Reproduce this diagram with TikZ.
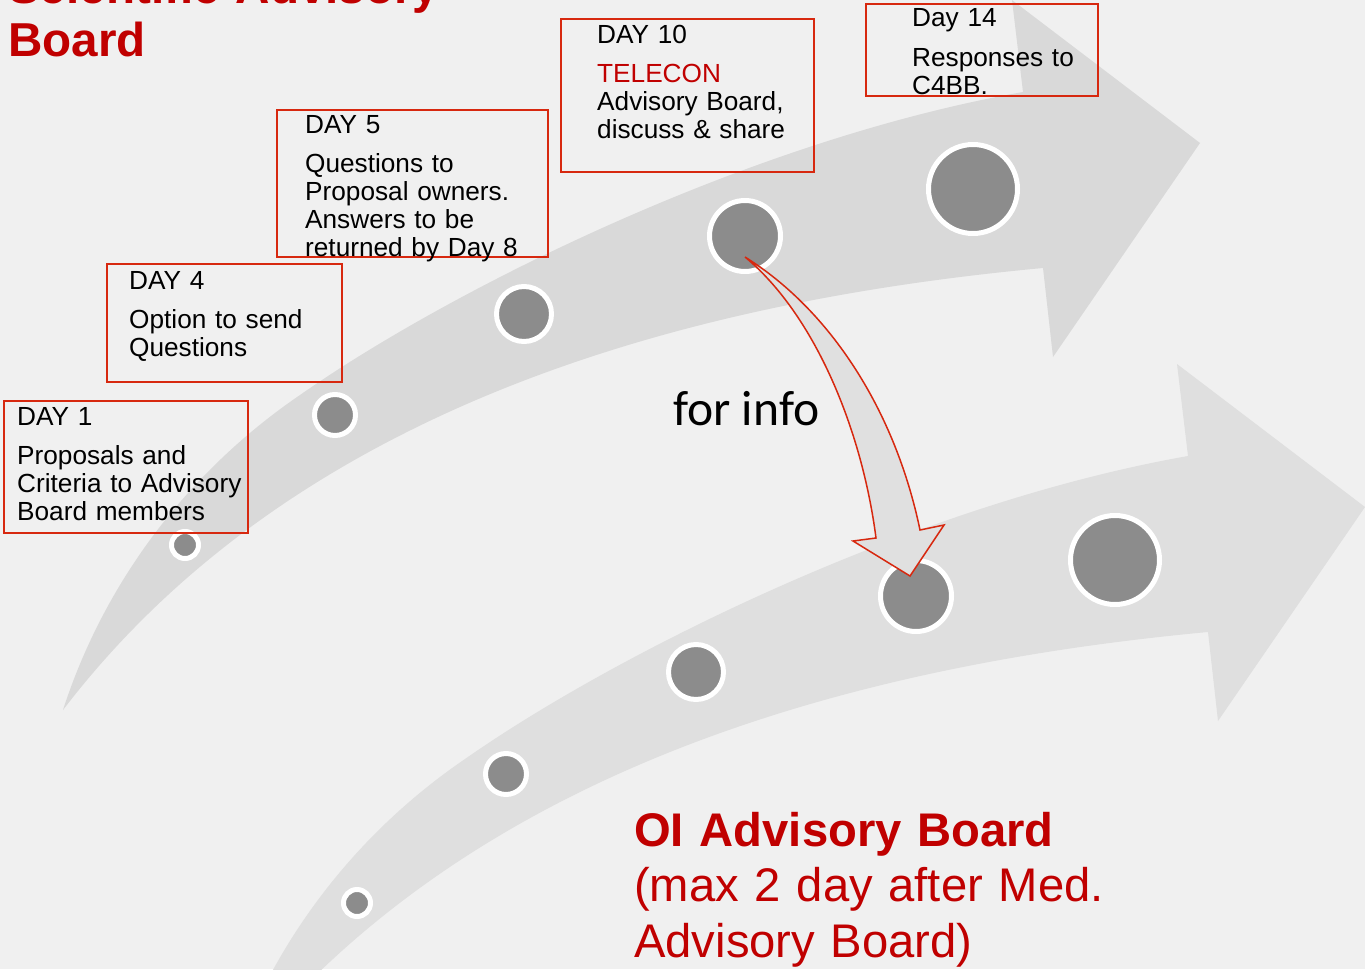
\documentclass[tikz,border=0pt]{standalone}
\usepackage{fontspec}
\setmainfont{Liberation Sans}
\newfontfamily\infofont{Carlito}
\usetikzlibrary{positioning}

\definecolor{bgfill}{HTML}{F0F0F0}
\definecolor{bandup}{HTML}{D9D9D9}
\definecolor{banddown}{HTML}{DFDFDF}
\definecolor{dotgray}{HTML}{8C8C8C}
\definecolor{titlered}{HTML}{C00000}
\definecolor{boxred}{RGB}{215,40,15}
\definecolor{infofill}{HTML}{E0E0E0}

\tikzset{
  daybox/.style={draw=boxred, line width=2pt},
  daytext/.style={anchor=base west, inner sep=0pt, text width=320pt, align=left,
    font=\fontsize{26.2}{28}\selectfont},
  milestone/.style={circle, fill=dotgray, draw=white, line width=5pt, inner sep=0pt},
  headline/.style={anchor=base west, inner sep=0pt, text width=620pt, align=left, text=titlered},
}

\begin{document}
\begin{tikzpicture}[x=1pt, y=-1pt]
  \useasboundingbox (0,0) rectangle (1365,969);
  \clip (0,0) rectangle (1365,969);
  \fill[bgfill] (0,0) rectangle (1365,969);

  \foreach \dx/\dy/\tone in {0/0/bandup, 165/364/banddown}
    \fill[\tone, shift={(\dx,\dy)}] (63,710) .. controls (105,580) and (190,470) .. (300,395)
      .. controls (450,290) and (750,140) .. (1023,92) -- (1012,0) -- (1200,143)
      -- (1053,357) -- (1043,268) .. controls (700,300) and (300,400) .. (63,710) -- cycle;

  \node[milestone, minimum size=27pt] (a1) at (185,545) {};
  \node[milestone, minimum size=41pt] (a2) at (335,415) {};
  \node[milestone, minimum size=55pt] (a3) at (524,314) {};
  \node[milestone, minimum size=71pt] (a4) at (745,236) {};
  \node[milestone, minimum size=89pt] (a5) at (973,189) {};
  \node[milestone, minimum size=27pt] (b1) at (357,903) {};
  \node[milestone, minimum size=41pt] (b2) at (506,774) {};
  \node[milestone, minimum size=55pt] (b3) at (696,672) {};
  \node[milestone, minimum size=71pt] (b4) at (916,596) {};
  \node[milestone, minimum size=89pt] (b5) at (1115,560) {};

  \node[headline, font=\bfseries\fontsize{47.6}{54}\selectfont] (title) at (8,3) {Scientific Advisory\\Board};

  \draw[daybox] (4,401) rectangle (248,533);
  \draw[daybox] (107,264) rectangle (342,382);
  \draw[daybox] (277,110) rectangle (548,257);
  \draw[daybox] (561,19) rectangle (814,172);
  \draw[daybox] (866,4) rectangle (1098,96);

  \node[daytext] (day1) at (17,425) {DAY 1\\[11.5pt]Proposals and\\Criteria to Advisory\\Board members};
  \node[daytext] (day4) at (129,289) {DAY 4\\[11.5pt]Option to send\\Questions};
  \node[daytext] (day5) at (305,133) {DAY 5\\[11.5pt]Questions to\\Proposal owners.\\Answers to be\\returned by Day 8};
  \node[daytext] (day10) at (597,43) {DAY 10\\[11.5pt]\textcolor{titlered}{TELECON}\\Advisory Board,\\discuss \& share};
  \node[daytext] (day14) at (912,27) {Day 14\\[11.5pt]Responses to\\C4BB.};

  \node[anchor=base west, inner sep=0pt, font=\infofont\fontsize{49.6}{58}\selectfont] (info) at (673,425) {for info};

  \node[headline, font=\fontsize{47.2}{55.5}\selectfont] (oiboard) at (634,846)
    {\textbf{OI Advisory Board}\\(max 2 day after Med.\\Advisory Board)};

  \coordinate (infofrom) at (745,257);
  \coordinate (infoto) at (910,576);
  \draw[draw=boxred, fill=infofill, line width=1.5pt] (infofrom) .. controls (830,310) and (895,410) .. (920,530)
    -- (944,525) -- (infoto) -- (853,541) -- (876,538) .. controls (862,430) and (815,315) .. (infofrom) -- cycle;
\end{tikzpicture}
\end{document}
